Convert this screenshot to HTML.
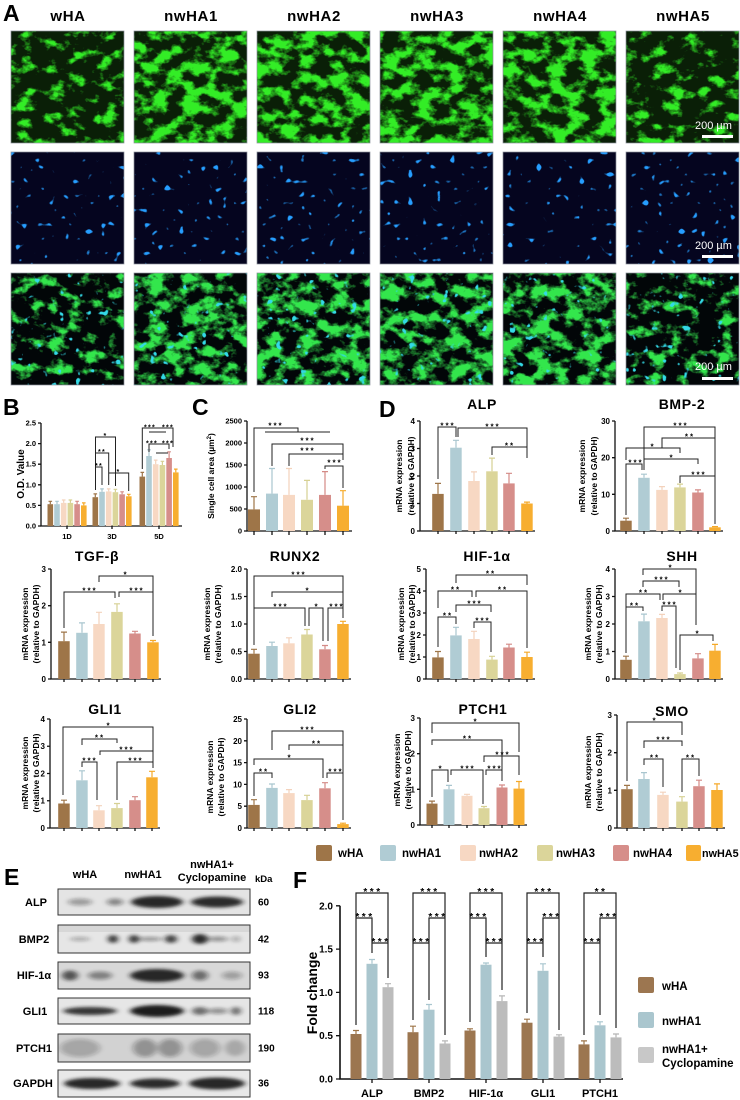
<!DOCTYPE html>
<html><head><meta charset="utf-8"><style>
html,body{margin:0;padding:0;background:#fff;}
svg{display:block}
text{font-family:"Liberation Sans",Arial,sans-serif;font-weight:bold;fill:#000}
.ax{stroke:#111;stroke-width:1.3;fill:none}
.br{stroke:#222;stroke-width:1;fill:none}
.tk{font-size:8px;text-anchor:end}
.ttl{font-size:14px;text-anchor:middle;letter-spacing:0.6px}
.yl{font-size:8.5px;text-anchor:middle}
.s{font-size:8px;letter-spacing:2px;text-anchor:middle}
.sb{font-size:7px;letter-spacing:1.3px;text-anchor:middle}
.sf{font-size:10px;letter-spacing:2.5px;text-anchor:middle}
.L{font-size:23px}
.hd{font-size:15px;text-anchor:middle;letter-spacing:0.6px}
.lg{font-size:11.5px}
.e0{stroke:#9e7548;stroke-width:1.2;fill:none}
.e1{stroke:#a9c6cf;stroke-width:1.2;fill:none}
.e2{stroke:#f3d2bc;stroke-width:1.2;fill:none}
.e3{stroke:#d6d093;stroke-width:1.2;fill:none}
.e4{stroke:#d48a86;stroke-width:1.2;fill:none}
.e5{stroke:#f5a928;stroke-width:1.2;fill:none}
.eg{stroke:#b5b5b5;stroke-width:1.2;fill:none}
.sc{font-family:"Liberation Sans",Arial,sans-serif;font-weight:normal;font-size:11px;fill:#fff}
</style></head><body>
<svg width="740" height="1100" viewBox="0 0 740 1100" xmlns="http://www.w3.org/2000/svg">
<defs>
<filter id="fg" x="0" y="0" width="1" height="1" color-interpolation-filters="sRGB">
<feTurbulence type="fractalNoise" baseFrequency="0.06 0.08" numOctaves="4" seed="7"/>
<feColorMatrix type="matrix" values="0 0 0 0 0.2  0 0 0 0 0.93  0 0 0 0 0.15  5 0 0 0 -2.15"/>
</filter>
<filter id="fg0" x="0" y="0" width="1" height="1" color-interpolation-filters="sRGB">
<feTurbulence type="fractalNoise" baseFrequency="0.06 0.08" numOctaves="4" seed="11"/>
<feColorMatrix type="matrix" values="0 0 0 0 0.2  0 0 0 0 0.93  0 0 0 0 0.15  5 0 0 0 -2.6"/>
</filter>
<filter id="fd" x="0" y="0" width="1" height="1" color-interpolation-filters="sRGB">
<feTurbulence type="fractalNoise" baseFrequency="0.14" numOctaves="1" seed="5"/>
<feColorMatrix type="matrix" values="0 0 0 0 0.15  0 0 0 0 0.62  0 0 0 0 1  16 0 0 0 -10.8"/>
</filter>
<filter id="fm" x="0" y="0" width="1" height="1" color-interpolation-filters="sRGB">
<feTurbulence type="fractalNoise" baseFrequency="0.06 0.08" numOctaves="4" seed="21"/>
<feColorMatrix type="matrix" values="0 0 0 0 0.2  0 0 0 0 0.9  0 0 0 0 0.3  5 0 0 0 -2.15"/>
</filter>
<filter id="fm0" x="0" y="0" width="1" height="1" color-interpolation-filters="sRGB">
<feTurbulence type="fractalNoise" baseFrequency="0.06 0.08" numOctaves="4" seed="23"/>
<feColorMatrix type="matrix" values="0 0 0 0 0.2  0 0 0 0 0.9  0 0 0 0 0.3  5 0 0 0 -2.6"/>
</filter>
<filter id="fmc" x="0" y="0" width="1" height="1" color-interpolation-filters="sRGB">
<feTurbulence type="fractalNoise" baseFrequency="0.12" numOctaves="2" seed="31"/>
<feColorMatrix type="matrix" values="0 0 0 0 0.2  0 0 0 0 0.85  0 0 0 0 0.9  12 0 0 0 -8.2"/>
</filter>
<filter id="bl" x="-30%" y="-100%" width="160%" height="300%"><feGaussianBlur stdDeviation="3 1.6"/></filter>
</defs>

<!-- ============ PANEL A ============ -->
<text x="3" y="21" class="L">A</text>
<text x="68" y="21" class="hd">wHA</text>
<text x="191" y="21" class="hd">nwHA1</text>
<text x="314" y="21" class="hd">nwHA2</text>
<text x="437" y="21" class="hd">nwHA3</text>
<text x="560" y="21" class="hd">nwHA4</text>
<text x="683" y="21" class="hd">nwHA5</text>

<!-- green row -->
<g>
<rect x="11" y="31" width="113" height="112" fill="#0a1f07"/><rect x="11" y="31" width="113" height="112" filter="url(#fg0)"/>
<rect x="134" y="31" width="113" height="112" fill="#0a1f07"/><rect x="134" y="31" width="113" height="112" filter="url(#fg)"/>
<rect x="257" y="31" width="113" height="112" fill="#0a1f07"/><rect x="257" y="31" width="113" height="112" filter="url(#fg)"/>
<rect x="380" y="31" width="113" height="112" fill="#0a1f07"/><rect x="380" y="31" width="113" height="112" filter="url(#fg)"/>
<rect x="503" y="31" width="113" height="112" fill="#0a1f07"/><rect x="503" y="31" width="113" height="112" filter="url(#fg)"/>
<rect x="626" y="31" width="113" height="112" fill="#0a1f07"/><rect x="626" y="31" width="113" height="112" filter="url(#fg0)"/>
</g>
<!-- dapi row -->
<g>
<rect x="11" y="152" width="113" height="112" fill="#05051f"/><rect x="11" y="152" width="113" height="112" filter="url(#fd)"/>
<rect x="134" y="152" width="113" height="112" fill="#05051f"/><rect x="134" y="152" width="113" height="112" filter="url(#fd)"/>
<rect x="257" y="152" width="113" height="112" fill="#05051f"/><rect x="257" y="152" width="113" height="112" filter="url(#fd)"/>
<rect x="380" y="152" width="113" height="112" fill="#05051f"/><rect x="380" y="152" width="113" height="112" filter="url(#fd)"/>
<rect x="503" y="152" width="113" height="112" fill="#05051f"/><rect x="503" y="152" width="113" height="112" filter="url(#fd)"/>
<rect x="626" y="152" width="113" height="112" fill="#05051f"/><rect x="626" y="152" width="113" height="112" filter="url(#fd)"/>
</g>
<!-- merged row -->
<g>
<rect x="11" y="273" width="113" height="112" fill="#020608"/><rect x="11" y="273" width="113" height="112" filter="url(#fm0)"/><rect x="11" y="273" width="113" height="112" filter="url(#fmc)"/>
<rect x="134" y="273" width="113" height="112" fill="#020608"/><rect x="134" y="273" width="113" height="112" filter="url(#fm)"/><rect x="134" y="273" width="113" height="112" filter="url(#fmc)"/>
<rect x="257" y="273" width="113" height="112" fill="#020608"/><rect x="257" y="273" width="113" height="112" filter="url(#fm)"/><rect x="257" y="273" width="113" height="112" filter="url(#fmc)"/>
<rect x="380" y="273" width="113" height="112" fill="#020608"/><rect x="380" y="273" width="113" height="112" filter="url(#fm)"/><rect x="380" y="273" width="113" height="112" filter="url(#fmc)"/>
<rect x="503" y="273" width="113" height="112" fill="#020608"/><rect x="503" y="273" width="113" height="112" filter="url(#fm)"/><rect x="503" y="273" width="113" height="112" filter="url(#fmc)"/>
<rect x="626" y="273" width="113" height="112" fill="#020608"/><rect x="626" y="273" width="113" height="112" filter="url(#fm0)"/><rect x="626" y="273" width="113" height="112" filter="url(#fmc)"/>
</g>
<g fill="none" stroke="#8a8f9a" stroke-width="0.7">
<rect x="11" y="31" width="113" height="112"/><rect x="134" y="31" width="113" height="112"/><rect x="257" y="31" width="113" height="112"/><rect x="380" y="31" width="113" height="112"/><rect x="503" y="31" width="113" height="112"/><rect x="626" y="31" width="113" height="112"/>
<rect x="11" y="152" width="113" height="112"/><rect x="134" y="152" width="113" height="112"/><rect x="257" y="152" width="113" height="112"/><rect x="380" y="152" width="113" height="112"/><rect x="503" y="152" width="113" height="112"/><rect x="626" y="152" width="113" height="112"/>
<rect x="11" y="273" width="113" height="112"/><rect x="134" y="273" width="113" height="112"/><rect x="257" y="273" width="113" height="112"/><rect x="380" y="273" width="113" height="112"/><rect x="503" y="273" width="113" height="112"/><rect x="626" y="273" width="113" height="112"/>
</g>
<text x="695" y="129" class="sc">200 µm</text><rect x="702" y="135" width="31" height="3" fill="#fff"/>
<text x="695" y="249" class="sc">200 µm</text><rect x="702" y="255" width="31" height="3" fill="#fff"/>
<text x="695" y="370" class="sc">200 µm</text><rect x="702" y="377" width="31" height="3" fill="#fff"/>

<!-- ============ PANEL B ============ -->
<text x="3" y="415" class="L">B</text>
<text transform="translate(24,474) rotate(-90)" style="font-size:10px;text-anchor:middle">O.D. Value</text>
<path class="ax" d="M41 423 V526 H182"/>
<path class="ax" d="M38 526H41M38 505.4H41M38 484.8H41M38 464.2H41M38 443.6H41M38 423H41M67 526V529M112 526V529M159 526V529"/>
<g style="font-size:7.5px;text-anchor:end">
<text x="36" y="528.5">0.0</text><text x="36" y="508">0.5</text><text x="36" y="487.3">1.0</text><text x="36" y="466.7">1.5</text><text x="36" y="446">2.0</text><text x="36" y="425.5">2.5</text>
</g>
<g style="font-size:7.5px;text-anchor:middle">
<text x="67" y="539">1D</text><text x="112" y="539">3D</text><text x="159" y="539">5D</text>
</g>
<!-- 1D -->
<rect x="47.5" y="504.2" width="5.6" height="21.8" fill="#9e7548"/><path class="e0" d="M50.3 504.2V501.3M48.5 501.3H52.1"/>
<rect x="54.2" y="504.2" width="5.6" height="21.8" fill="#b0ccd4"/><path class="e1" d="M57 504.2V501.3M55.2 501.3H58.8"/>
<rect x="60.9" y="502.9" width="5.6" height="23.1" fill="#f7d8c3"/><path class="e2" d="M63.7 502.9V500M61.9 500H65.5"/>
<rect x="67.6" y="502.9" width="5.6" height="23.1" fill="#dbd59a"/><path class="e3" d="M70.4 502.9V500M68.6 500H72.2"/>
<rect x="74.3" y="504.2" width="5.6" height="21.8" fill="#d68e8a"/><path class="e4" d="M77.1 504.2V501.3M75.3 501.3H78.9"/>
<rect x="81" y="505.4" width="5.6" height="20.6" fill="#f7ae30"/><path class="e5" d="M83.8 505.4V502.9M82 502.9H85.6"/>
<!-- 3D -->
<rect x="92.5" y="497.2" width="5.6" height="28.8" fill="#9e7548"/><path class="e0" d="M95.3 497.2V493.9M93.5 493.9H97.1"/>
<rect x="99.2" y="491.8" width="5.6" height="34.2" fill="#b0ccd4"/><path class="e1" d="M102 491.8V488.9M100.2 488.9H103.8"/>
<rect x="105.9" y="491.4" width="5.6" height="34.6" fill="#f7d8c3"/><path class="e2" d="M108.7 491.4V488.9M106.9 488.9H110.5"/>
<rect x="112.6" y="492.2" width="5.6" height="33.8" fill="#dbd59a"/><path class="e3" d="M115.4 492.2V489.3M113.6 489.3H117.2"/>
<rect x="119.3" y="494.3" width="5.6" height="31.7" fill="#d68e8a"/><path class="e4" d="M122.1 494.3V491.8M120.3 491.8H123.9"/>
<rect x="126" y="496.3" width="5.6" height="29.7" fill="#f7ae30"/><path class="e5" d="M128.8 496.3V494.3M127 494.3H130.6"/>
<!-- 5D -->
<rect x="139.5" y="476.6" width="5.6" height="49.4" fill="#9e7548"/><path class="e0" d="M142.3 476.6V472.4M140.5 472.4H144.1"/>
<rect x="146.2" y="456" width="5.6" height="70" fill="#b0ccd4"/><path class="e1" d="M149 456V449.8M147.2 449.8H150.8"/>
<rect x="152.9" y="464.2" width="5.6" height="61.8" fill="#f7d8c3"/><path class="e2" d="M155.7 464.2V460.1M153.9 460.1H157.5"/>
<rect x="159.6" y="465" width="5.6" height="61" fill="#dbd59a"/><path class="e3" d="M162.4 465V461.3M160.6 461.3H164.2"/>
<rect x="166.3" y="458" width="5.6" height="68" fill="#d68e8a"/><path class="e4" d="M169.1 458V451.8M167.3 451.8H170.9"/>
<rect x="173" y="472.4" width="5.6" height="53.6" fill="#f7ae30"/><path class="e5" d="M175.8 472.4V469.1M174 469.1H177.6"/>
<path class="br" d="M95.5 490V437H115.5V486M95.5 486V453H108.7V485M95.5 484V467H102V485M108.7 485V473H128.7V491"/>
<text x="105.5" y="438" class="sb">*</text><text x="102" y="454" class="sb">**</text><text x="99" y="468" class="sb">**</text><text x="118.5" y="474" class="sb">*</text>
<path class="br" d="M142.3 469V428H173V447M149 432H166M149 452V444H169V449M156 453H168"/>
<text x="150" y="429.5" class="sb">***</text><text x="168" y="429.5" class="sb">***</text>
<text x="152" y="445.5" class="sb">***</text><text x="168" y="445.5" class="sb">***</text>

<!-- ============ PANEL C ============ -->
<text x="192" y="415" class="L">C</text>
<text transform="translate(214,476) rotate(-90)" style="font-size:8.5px;text-anchor:middle">Single cell area (µm<tspan dy="-3" style="font-size:6px">2</tspan><tspan dy="3">)</tspan></text>
<path class="ax" d="M247 421V531H352"/>
<path class="ax" d="M244 531H247M244 509H247M244 487H247M244 465H247M244 443H247M244 421H247M254 531V535M272 531V535M289 531V535M307 531V535M325 531V535M343 531V535"/>
<g class="tk" style="font-size:7.5px">
<text x="242" y="533.5">0</text><text x="242" y="511.5">500</text><text x="242" y="489.5">1000</text><text x="242" y="467.5">1500</text><text x="242" y="445.5">2000</text><text x="242" y="423.5">2500</text>
</g>
<rect x="248" y="509.4" width="12" height="21.6" fill="#9e7548"/><path class="e0" d="M254 509.4V496.7M251 496.7H257"/>
<rect x="266" y="493.6" width="12" height="37.4" fill="#b0ccd4"/><path class="e1" d="M272 493.6V468.5M269 468.5H275"/>
<rect x="283" y="494.9" width="12" height="36.1" fill="#f7d8c3"/><path class="e2" d="M289 494.9V468.5M286 468.5H292"/>
<rect x="301" y="499.8" width="12" height="31.2" fill="#dbd59a"/><path class="e3" d="M307 499.8V480.4M304 480.4H310"/>
<rect x="319" y="494.9" width="12" height="36.1" fill="#d68e8a"/><path class="e4" d="M325 494.9V471.6M322 471.6H328"/>
<rect x="337" y="505.7" width="12" height="25.3" fill="#f7ae30"/><path class="e5" d="M343 505.7V490.7M340 490.7H346"/>
<path class="br" d="M254 492V428H298V432M265 432H330M272 466V444H343V460M289 466V454H343M325 469V466H343V488"/>
<text x="276" y="428.5" class="s">***</text><text x="308" y="443.5" class="s">***</text><text x="308" y="453.5" class="s">***</text><text x="335" y="465.5" class="s">***</text>

<!-- ============ PANEL D ============ -->
<text x="379" y="417" class="L">D</text>

<!-- ALP -->
<text x="482" y="409" class="ttl">ALP</text>
<text transform="translate(402,476) rotate(-90)" class="yl">mRNA expression</text>
<text transform="translate(414,476) rotate(-90)" class="yl">(relative to GAPDH)</text>
<path class="ax" d="M420 421V531H535"/>
<path class="ax" d="M417 531H420M417 503.5H420M417 476H420M417 448.5H420M417 421H420M438 531V534M456 531V534M474 531V534M492 531V534M509 531V534M527 531V534"/>
<g class="tk"><text x="415" y="534">0</text><text x="415" y="506.5">1</text><text x="415" y="479">2</text><text x="415" y="451.5">3</text><text x="415" y="424">4</text></g>
<rect x="432.2" y="493.9" width="11.5" height="37.1" fill="#9e7548"/><path class="e0" d="M438 493.9V483.4M435 483.4H441"/>
<rect x="450.2" y="447.7" width="11.5" height="83.3" fill="#b0ccd4"/><path class="e1" d="M456 447.7V440.3M453 440.3H459"/>
<rect x="468.2" y="481" width="11.5" height="50" fill="#f7d8c3"/><path class="e2" d="M474 481V471.9M471 471.9H477"/>
<rect x="486.2" y="471.3" width="11.5" height="59.7" fill="#dbd59a"/><path class="e3" d="M492 471.3V458.1M489 458.1H495"/>
<rect x="503.2" y="483.4" width="11.5" height="47.6" fill="#d68e8a"/><path class="e4" d="M509 483.4V473.3M506 473.3H512"/>
<rect x="521.2" y="503.5" width="11.5" height="27.5" fill="#f7ae30"/><path class="e5" d="M527 503.5V502.1M524 502.1H530"/>
<path class="br" d="M438 479V427H456V437M458 437V428H527V458M492 455V447H527"/>
<text x="448" y="428.5" class="s">***</text><text x="493" y="429.5" class="s">***</text><text x="510" y="448.5" class="s">**</text>

<!-- BMP-2 -->
<text x="682" y="409" class="ttl">BMP-2</text>
<text transform="translate(585,476) rotate(-90)" class="yl">mRNA expression</text>
<text transform="translate(597,476) rotate(-90)" class="yl">(relative to GAPDH)</text>
<path class="ax" d="M615 421V531H723"/>
<path class="ax" d="M612 531H615M612 494.3H615M612 457.7H615M612 421H615M626 531V534M644 531V534M662 531V534M680 531V534M698 531V534M715 531V534"/>
<g class="tk"><text x="610" y="534">0</text><text x="610" y="497.3">10</text><text x="610" y="460.7">20</text><text x="610" y="424">30</text></g>
<rect x="620.2" y="520.7" width="11.5" height="10.3" fill="#9e7548"/><path class="e0" d="M626 520.7V518.2M623 518.2H629"/>
<rect x="638.2" y="477.8" width="11.5" height="53.2" fill="#b0ccd4"/><path class="e1" d="M644 477.8V474.2M641 474.2H647"/>
<rect x="656.2" y="489.9" width="11.5" height="41.1" fill="#f7d8c3"/><path class="e2" d="M662 489.9V486.6M659 486.6H665"/>
<rect x="674.2" y="487.4" width="11.5" height="43.6" fill="#dbd59a"/><path class="e3" d="M680 487.4V484.1M677 484.1H683"/>
<rect x="692.2" y="492.5" width="11.5" height="38.5" fill="#d68e8a"/><path class="e4" d="M698 492.5V489.9M695 489.9H701"/>
<rect x="709.2" y="527.3" width="11.5" height="3.7" fill="#f7ae30"/><path class="e5" d="M715 527.3V526.6M712 526.6H718"/>
<path class="br" d="M644 467V427H715V524M662 448V438H715M626 460V448H680V453M644 470V459H698V464M626 515V464H642V470M680 483V476H715"/>
<text x="681" y="428.5" class="s">***</text><text x="690" y="439.5" class="s">**</text><text x="653" y="449.5" class="s">*</text><text x="672" y="460.5" class="s">*</text><text x="636" y="465.5" class="s">***</text><text x="699" y="477.5" class="s">***</text>

<!-- TGF-beta -->
<text x="97" y="561" class="ttl">TGF-β</text>
<text transform="translate(28,624) rotate(-90)" class="yl">mRNA expression</text>
<text transform="translate(39,624) rotate(-90)" class="yl">(relative to GAPDH)</text>
<path class="ax" d="M51 569V679H161"/>
<path class="ax" d="M48 679H51M48 642.3H51M48 605.7H51M48 569H51M64 679V682M82 679V682M99 679V682M117 679V682M135 679V682M153 679V682"/>
<g class="tk"><text x="46" y="682">0</text><text x="46" y="645.3">1</text><text x="46" y="608.7">2</text><text x="46" y="572">3</text></g>
<rect x="58.2" y="641.2" width="11.5" height="37.8" fill="#9e7548"/><path class="e0" d="M64 641.2V632.1M61 632.1H67"/>
<rect x="76.2" y="632.8" width="11.5" height="46.2" fill="#b0ccd4"/><path class="e1" d="M82 632.8V622.9M79 622.9H85"/>
<rect x="93.2" y="624" width="11.5" height="55" fill="#f7d8c3"/><path class="e2" d="M99 624V612.3M96 612.3H102"/>
<rect x="111.2" y="611.9" width="11.5" height="67.1" fill="#dbd59a"/><path class="e3" d="M117 611.9V603.8M114 603.8H120"/>
<rect x="129.2" y="633.5" width="11.5" height="45.5" fill="#d68e8a"/><path class="e4" d="M135 633.5V631.3M132 631.3H138"/>
<rect x="147.2" y="642.3" width="11.5" height="36.7" fill="#f7ae30"/><path class="e5" d="M153 642.3V640.5M150 640.5H156"/>
<path class="br" d="M99 582V576H153V600M64 628V592H115V598M119 597V592H153V636"/>
<text x="126" y="577.5" class="s">*</text><text x="90" y="593.5" class="s">***</text><text x="137" y="593.5" class="s">***</text>

<!-- RUNX2 -->
<text x="295" y="561" class="ttl">RUNX2</text>
<text transform="translate(210,624) rotate(-90)" class="yl">mRNA expression</text>
<text transform="translate(221,624) rotate(-90)" class="yl">(relative to GAPDH)</text>
<path class="ax" d="M247 569V679H351"/>
<path class="ax" d="M244 679H247M244 651.5H247M244 624H247M244 596.5H247M244 569H247M254 679V682M272 679V682M289 679V682M307 679V682M325 679V682M343 679V682"/>
<g class="tk"><text x="242" y="682">0.0</text><text x="242" y="654.5">0.5</text><text x="242" y="627">1.0</text><text x="242" y="599.5">1.5</text><text x="242" y="572">2.0</text></g>
<rect x="248.2" y="653.7" width="11.5" height="25.3" fill="#9e7548"/><path class="e0" d="M254 653.7V649.3M251 649.3H257"/>
<rect x="266.2" y="646" width="11.5" height="33" fill="#b0ccd4"/><path class="e1" d="M272 646V642.2M269 642.2H275"/>
<rect x="283.2" y="643.3" width="11.5" height="35.7" fill="#f7d8c3"/><path class="e2" d="M289 643.3V637.8M286 637.8H292"/>
<rect x="301.2" y="634.5" width="11.5" height="44.5" fill="#dbd59a"/><path class="e3" d="M307 634.5V629.5M304 629.5H310"/>
<rect x="319.2" y="649.3" width="11.5" height="29.7" fill="#d68e8a"/><path class="e4" d="M325 649.3V645.5M322 645.5H328"/>
<rect x="337.2" y="624" width="11.5" height="55" fill="#f7ae30"/><path class="e5" d="M343 624V621.3M340 621.3H346"/>
<path class="br" d="M254 645V576H343V617M272 597V592H343M254 612V608H305V626M309 626V608H323V641M328 641V608H343V618"/>
<text x="299" y="577.5" class="s">***</text><text x="308" y="593.5" class="s">*</text><text x="281" y="609.5" class="s">***</text><text x="317" y="609.5" class="s">*</text><text x="337" y="609.5" class="s">***</text>

<!-- HIF-1a -->
<text x="487" y="561" class="ttl">HIF-1α</text>
<text transform="translate(404,624) rotate(-90)" class="yl">mRNA expression</text>
<text transform="translate(415,624) rotate(-90)" class="yl">(relative to GAPDH)</text>
<path class="ax" d="M426 569V679H535"/>
<path class="ax" d="M423 679H426M423 657H426M423 635H426M423 613H426M423 591H426M423 569H426M438 679V682M456 679V682M474 679V682M492 679V682M509 679V682M527 679V682"/>
<g class="tk"><text x="421" y="682">0</text><text x="421" y="660">1</text><text x="421" y="638">2</text><text x="421" y="616">3</text><text x="421" y="594">4</text><text x="421" y="572">5</text></g>
<rect x="432.2" y="657.4" width="11.5" height="21.6" fill="#9e7548"/><path class="e0" d="M438 657.4V651.5M435 651.5H441"/>
<rect x="450.2" y="635.4" width="11.5" height="43.6" fill="#b0ccd4"/><path class="e1" d="M456 635.4V627.3M453 627.3H459"/>
<rect x="468.2" y="639" width="11.5" height="40" fill="#f7d8c3"/><path class="e2" d="M474 639V631.3M471 631.3H477"/>
<rect x="486.2" y="659.6" width="11.5" height="19.4" fill="#dbd59a"/><path class="e3" d="M492 659.6V656.3M489 656.3H495"/>
<rect x="503.2" y="647.5" width="11.5" height="31.5" fill="#d68e8a"/><path class="e4" d="M509 647.5V644.2M506 644.2H512"/>
<rect x="521.2" y="657" width="11.5" height="22" fill="#f7ae30"/><path class="e5" d="M527 657V652.2M524 652.2H530"/>
<path class="br" d="M456 583V575H527V585M438 608V591H472V597M476 597V591H527V648M456 612V605H491V612M438 647V617H456V624M474 628V622H491V652"/>
<text x="491" y="576.5" class="s">**</text><text x="456" y="592.5" class="s">**</text><text x="503" y="592.5" class="s">**</text><text x="475" y="606.5" class="s">***</text><text x="448" y="618.5" class="s">**</text><text x="483" y="623.5" class="s">***</text>

<!-- SHH -->
<text x="682" y="561" class="ttl">SHH</text>
<text transform="translate(591,624) rotate(-90)" class="yl">mRNA expression</text>
<text transform="translate(602,624) rotate(-90)" class="yl">(relative to GAPDH)</text>
<path class="ax" d="M615 569V679H723"/>
<path class="ax" d="M612 679H615M612 651.5H615M612 624H615M612 596.5H615M612 569H615M626 679V682M644 679V682M662 679V682M680 679V682M698 679V682M715 679V682"/>
<g class="tk"><text x="610" y="682">0</text><text x="610" y="654.5">1</text><text x="610" y="627">2</text><text x="610" y="599.5">3</text><text x="610" y="572">4</text></g>
<rect x="620.2" y="659.8" width="11.5" height="19.2" fill="#9e7548"/><path class="e0" d="M626 659.8V656.2M623 656.2H629"/>
<rect x="638.2" y="621.3" width="11.5" height="57.7" fill="#b0ccd4"/><path class="e1" d="M644 621.3V614.1M641 614.1H647"/>
<rect x="656.2" y="618" width="11.5" height="61" fill="#f7d8c3"/><path class="e2" d="M662 618V614.4M659 614.4H665"/>
<rect x="674.2" y="674.1" width="11.5" height="4.9" fill="#dbd59a"/><path class="e3" d="M680 674.1V673M677 673H683"/>
<rect x="692.2" y="658.4" width="11.5" height="20.6" fill="#d68e8a"/><path class="e4" d="M698 658.4V653.7M695 653.7H701"/>
<rect x="709.2" y="650.7" width="11.5" height="28.3" fill="#f7ae30"/><path class="e5" d="M715 650.7V644.4M712 644.4H718"/>
<path class="br" d="M643 575V569H696V625M643 587V581H679V587M626 607V594H660V600M663 600V594H696M626 653V607H643V611M662 611V606H676V668M680 670V635H713V641"/>
<text x="671" y="570.5" class="s">*</text><text x="662" y="582.5" class="s">***</text><text x="644" y="595.5" class="s">**</text><text x="681" y="595.5" class="s">*</text><text x="635" y="608.5" class="s">**</text><text x="670" y="607.5" class="s">***</text><text x="698" y="636.5" class="s">*</text>

<!-- GLI1 -->
<text x="105" y="714" class="ttl">GLI1</text>
<text transform="translate(28,773) rotate(-90)" class="yl">mRNA expression</text>
<text transform="translate(39,773) rotate(-90)" class="yl">(relative to GAPDH)</text>
<path class="ax" d="M50 719V828H160"/>
<path class="ax" d="M47 828H50M47 800.75H50M47 773.5H50M47 746.25H50M47 719H50M64 828V831M82 828V831M99 828V831M117 828V831M135 828V831M152 828V831"/>
<g class="tk"><text x="45" y="831">0</text><text x="45" y="803.7">1</text><text x="45" y="776.5">2</text><text x="45" y="749.2">3</text><text x="45" y="722">4</text></g>
<rect x="58.2" y="803.5" width="11.5" height="24.5" fill="#9e7548"/><path class="e0" d="M64 803.5V800.2M61 800.2H67"/>
<rect x="76.2" y="780.3" width="11.5" height="47.7" fill="#b0ccd4"/><path class="e1" d="M82 780.3V770.8M79 770.8H85"/>
<rect x="93.2" y="810.3" width="11.5" height="17.7" fill="#f7d8c3"/><path class="e2" d="M99 810.3V805.7M96 805.7H102"/>
<rect x="111.2" y="808.1" width="11.5" height="19.9" fill="#dbd59a"/><path class="e3" d="M117 808.1V803.5M114 803.5H120"/>
<rect x="129.2" y="800.2" width="11.5" height="27.8" fill="#d68e8a"/><path class="e4" d="M135 800.2V796.7M132 796.7H138"/>
<rect x="146.2" y="777.3" width="11.5" height="50.7" fill="#f7ae30"/><path class="e5" d="M152 777.3V771.3M149 771.3H155"/>
<path class="br" d="M63 795V727H153V768M82 745V739H117V743M100 755V751H153V755M82 767V762H97V800M117 800V762H153V768"/>
<text x="109" y="728.5" class="s">*</text><text x="100" y="740.5" class="s">**</text><text x="127" y="752.5" class="s">***</text><text x="90" y="763.5" class="s">***</text><text x="136" y="763.5" class="s">***</text>

<!-- GLI2 -->
<text x="300" y="714" class="ttl">GLI2</text>
<text transform="translate(213,777) rotate(-90)" class="yl">mRNA expression</text>
<text transform="translate(224,777) rotate(-90)" class="yl">(relative to GAPDH)</text>
<path class="ax" d="M247 719V828H351"/>
<path class="ax" d="M244 828H247M244 806.2H247M244 784.4H247M244 762.6H247M244 740.8H247M244 719H247M254 828V831M272 828V831M289 828V831M307 828V831M325 828V831M343 828V831"/>
<g class="tk"><text x="242" y="831">0</text><text x="242" y="809.2">5</text><text x="242" y="787.4">10</text><text x="242" y="765.6">15</text><text x="242" y="743.8">20</text><text x="242" y="722">25</text></g>
<rect x="248.2" y="804.9" width="11.5" height="23.1" fill="#9e7548"/><path class="e0" d="M254 804.9V799.7M251 799.7H257"/>
<rect x="266.2" y="787.9" width="11.5" height="40.1" fill="#b0ccd4"/><path class="e1" d="M272 787.9V784M269 784H275"/>
<rect x="283.2" y="793.1" width="11.5" height="34.9" fill="#f7d8c3"/><path class="e2" d="M289 793.1V789.6M286 789.6H292"/>
<rect x="301.2" y="800.1" width="11.5" height="27.9" fill="#dbd59a"/><path class="e3" d="M307 800.1V795.3M304 795.3H310"/>
<rect x="319.2" y="788.3" width="11.5" height="39.7" fill="#d68e8a"/><path class="e4" d="M325 788.3V782.7M322 782.7H328"/>
<rect x="337.2" y="824.1" width="11.5" height="3.9" fill="#f7ae30"/><path class="e5" d="M343 824.1V823.2M340 823.2H346"/>
<path class="br" d="M272 750V731H343V745M289 750V745H343V773M254 765V759H323V778M254 796V773H272V778M327 778V773H343V820"/>
<text x="308" y="732.5" class="s">***</text><text x="317" y="746.5" class="s">**</text><text x="290" y="760.5" class="s">*</text><text x="264" y="774.5" class="s">**</text><text x="336" y="774.5" class="s">***</text>

<!-- PTCH1 -->
<text x="483" y="714" class="ttl">PTCH1</text>
<text transform="translate(400,770) rotate(-90)" class="yl">mRNA expression</text>
<text transform="translate(411,770) rotate(-90)" class="yl">(relative to GAPDH)</text>
<path class="ax" d="M420 718V825H527"/>
<path class="ax" d="M417 825H420M417 789.3H420M417 753.7H420M417 718H420M432 825V828M449 825V828M467 825V828M484 825V828M502 825V828M519 825V828"/>
<g class="tk"><text x="415" y="828">0</text><text x="415" y="792.3">1</text><text x="415" y="756.7">2</text><text x="415" y="721">3</text></g>
<rect x="426.5" y="803.6" width="11" height="21.4" fill="#9e7548"/><path class="e0" d="M432 803.6V801.1M429 801.1H435"/>
<rect x="443.5" y="789.3" width="11" height="35.7" fill="#b0ccd4"/><path class="e1" d="M449 789.3V785.4M446 785.4H452"/>
<rect x="461.5" y="795.8" width="11" height="29.2" fill="#f7d8c3"/><path class="e2" d="M467 795.8V794.3M464 794.3H470"/>
<rect x="478.5" y="808.2" width="11" height="16.8" fill="#dbd59a"/><path class="e3" d="M484 808.2V806.5M481 806.5H487"/>
<rect x="496.5" y="787.5" width="11" height="37.5" fill="#d68e8a"/><path class="e4" d="M502 787.5V785M499 785H505"/>
<rect x="513.5" y="788.6" width="11" height="36.4" fill="#f7ae30"/><path class="e5" d="M519 788.6V781.5M516 781.5H522"/>
<path class="br" d="M432 733V723H519V752M432 745V740H502V780M484 762V756H519V775M432 797V770H448V782M451 775V770H483V804M486 775V770H502V781"/>
<text x="476" y="724.5" class="s">*</text><text x="468" y="741.5" class="s">**</text><text x="503" y="757.5" class="s">***</text><text x="441" y="771.5" class="s">*</text><text x="468" y="771.5" class="s">***</text><text x="495" y="771.5" class="s">***</text>

<!-- SMO -->
<text x="672" y="716" class="ttl">SMO</text>
<text transform="translate(591,772) rotate(-90)" class="yl">mRNA expression</text>
<text transform="translate(602,772) rotate(-90)" class="yl">(relative to GAPDH)</text>
<path class="ax" d="M617 715V828H725"/>
<path class="ax" d="M614 828H617M614 790.3H617M614 752.7H617M614 715H617M627 828V831M644 828V831M663 828V831M682 828V831M699 828V831M717 828V831"/>
<g class="tk"><text x="612" y="831">0</text><text x="612" y="793.3">1</text><text x="612" y="755.7">2</text><text x="612" y="718">3</text></g>
<rect x="621.2" y="789.2" width="11.5" height="38.8" fill="#9e7548"/><path class="e0" d="M627 789.2V785.4M624 785.4H630"/>
<rect x="638.2" y="779" width="11.5" height="49" fill="#b0ccd4"/><path class="e1" d="M644 779V772.6M641 772.6H647"/>
<rect x="657.2" y="794.9" width="11.5" height="33.1" fill="#f7d8c3"/><path class="e2" d="M663 794.9V792.2M660 792.2H666"/>
<rect x="676.2" y="801.6" width="11.5" height="26.4" fill="#dbd59a"/><path class="e3" d="M682 801.6V796.7M679 796.7H685"/>
<rect x="693.2" y="786.2" width="11.5" height="41.8" fill="#d68e8a"/><path class="e4" d="M699 786.2V780.2M696 780.2H702"/>
<rect x="711.2" y="790" width="11.5" height="38" fill="#f7ae30"/><path class="e5" d="M717 790V783.9M714 783.9H720"/>
<path class="br" d="M627 781V722H682V735M644 748V741H682V746M644 765V759H663V787M682 792V759H699V776"/>
<text x="655" y="723.5" class="s">*</text><text x="664" y="742.5" class="s">***</text><text x="655" y="760.5" class="s">**</text><text x="691" y="760.5" class="s">**</text>

<!-- D legend -->
<rect x="316" y="845" width="16" height="16" rx="2" fill="#9e7548"/><text x="338" y="857" class="lg">wHA</text>
<rect x="380" y="845" width="16" height="16" rx="2" fill="#b0ccd4"/><text x="402" y="857" class="lg">nwHA1</text>
<rect x="460" y="845" width="16" height="16" rx="2" fill="#f7d8c3"/><text x="479" y="857" class="lg">nwHA2</text>
<rect x="537" y="845" width="16" height="16" rx="2" fill="#dbd59a"/><text x="556" y="857" class="lg">nwHA3</text>
<rect x="613" y="845" width="16" height="16" rx="2" fill="#d68e8a"/><text x="633" y="857" class="lg">nwHA4</text>
<rect x="686" y="845" width="15" height="16" rx="2" fill="#f7ae30"/><text x="702" y="857" style="font-size:10.8px">nwHA5</text>

<!-- ============ PANEL E ============ -->
<text x="4" y="885" class="L">E</text>
<g style="font-size:11px;text-anchor:middle">
<text x="85" y="878">wHA</text><text x="143" y="878">nwHA1</text><text x="212" y="868">nwHA1+</text><text x="212" y="881">Cyclopamine</text>
</g>
<text x="255" y="882" style="font-size:9.5px">kDa</text>
<g style="font-size:11px;text-anchor:middle">
<text x="36" y="906">ALP</text><text x="34" y="943">BMP2</text><text x="34" y="979">HIF-1α</text><text x="35" y="1015">GLI1</text><text x="34" y="1052">PTCH1</text><text x="33" y="1087">GAPDH</text>
</g>
<g style="font-size:10px">
<text x="258" y="905.5">60</text><text x="258" y="942.5">42</text><text x="258" y="978.5">93</text><text x="258" y="1014.5">118</text><text x="258" y="1051.5">190</text><text x="258" y="1086.5">36</text>
</g>
<svg x="58" y="889" width="192" height="26"><rect width="192" height="26" fill="#e4e4e4"/><g filter="url(#bl)" fill="#1a1a1a">
<ellipse cx="22" cy="13" rx="12" ry="3.5" opacity=".35"/><ellipse cx="57" cy="13" rx="8" ry="3.5" opacity=".45"/><ellipse cx="99" cy="13" rx="26" ry="6" opacity=".95"/><ellipse cx="159" cy="13" rx="26" ry="5.5" opacity=".9"/></g></svg>
<svg x="58" y="925" width="192" height="28"><rect width="192" height="28" fill="#e6e6e6"/><rect width="192" height="7" fill="#c8c8c8" opacity=".5"/><g filter="url(#bl)" fill="#1a1a1a">
<ellipse cx="22" cy="14" rx="10" ry="2" opacity=".3"/><ellipse cx="55" cy="14" rx="5" ry="4" opacity=".85"/><ellipse cx="76" cy="14" rx="5" ry="4" opacity=".85"/><ellipse cx="92" cy="14" rx="12" ry="2" opacity=".4"/><ellipse cx="113" cy="14" rx="6" ry="4" opacity=".8"/><ellipse cx="142" cy="14" rx="8" ry="5" opacity=".9"/><ellipse cx="160" cy="14" rx="10" ry="2.5" opacity=".4"/><ellipse cx="178" cy="14" rx="4" ry="3" opacity=".3"/></g></svg>
<svg x="58" y="962" width="192" height="27"><rect width="192" height="27" fill="#d8d8d8"/><g filter="url(#bl)" fill="#1a1a1a">
<ellipse cx="12" cy="13.5" rx="8" ry="5" opacity=".7"/><ellipse cx="42" cy="13.5" rx="12" ry="4" opacity=".45"/><ellipse cx="99" cy="13.5" rx="27" ry="6.5" opacity=".95"/><ellipse cx="142" cy="13.5" rx="8" ry="5" opacity=".55"/><ellipse cx="174" cy="13.5" rx="10" ry="4" opacity=".3"/></g></svg>
<svg x="58" y="998" width="192" height="26"><rect width="192" height="26" fill="#e6e6e6"/><g filter="url(#bl)" fill="#1a1a1a">
<ellipse cx="32" cy="13" rx="27" ry="4" opacity=".85"/><ellipse cx="99" cy="13" rx="27" ry="6" opacity="1"/><ellipse cx="142" cy="13" rx="8" ry="4" opacity=".6"/><ellipse cx="160" cy="13" rx="10" ry="3" opacity=".4"/><ellipse cx="178" cy="13" rx="5" ry="4" opacity=".6"/></g></svg>
<svg x="58" y="1034" width="192" height="28"><rect width="192" height="28" fill="#d2d2d2"/><g filter="url(#bl)" fill="#1a1a1a">
<ellipse cx="22" cy="14" rx="20" ry="9" opacity=".25"/><ellipse cx="87" cy="14" rx="12" ry="9" opacity=".35"/><ellipse cx="112" cy="14" rx="12" ry="9" opacity=".35"/><ellipse cx="147" cy="14" rx="15" ry="9" opacity=".25"/><ellipse cx="177" cy="14" rx="10" ry="8" opacity=".2"/></g></svg>
<svg x="58" y="1070" width="192" height="27"><rect width="192" height="27" fill="#e8e8e8"/><g filter="url(#bl)" fill="#1a1a1a">
<ellipse cx="34" cy="13.5" rx="28" ry="5.5" opacity=".95"/><ellipse cx="97" cy="13.5" rx="25" ry="5" opacity=".9"/><ellipse cx="159" cy="13.5" rx="28" ry="6" opacity=".95"/></g></svg>
<g fill="none" stroke="#333" stroke-width="1">
<rect x="58" y="889" width="192" height="26"/><rect x="58" y="925" width="192" height="28"/><rect x="58" y="962" width="192" height="27"/><rect x="58" y="998" width="192" height="26"/><rect x="58" y="1034" width="192" height="28"/><rect x="58" y="1070" width="192" height="27"/>
</g>

<!-- ============ PANEL F ============ -->
<text x="293" y="888" class="L">F</text>
<text transform="translate(317,993) rotate(-90)" style="font-size:14px;text-anchor:middle">Fold change</text>
<path class="ax" d="M340 905.8V1079H623" style="stroke-width:1.6"/>
<path class="ax" d="M336 1079H340M336 1035.7H340M336 992.4H340M336 949.1H340M336 905.8H340M372 1079V1083M429 1079V1083M486 1079V1083M543 1079V1083M600 1079V1083"/>
<g style="font-size:10px;text-anchor:end">
<text x="333" y="1082.5">0.0</text><text x="333" y="1039.2">0.5</text><text x="333" y="995.9">1.0</text><text x="333" y="952.6">1.5</text><text x="333" y="909.3">2.0</text>
</g>
<g style="font-size:11px;text-anchor:middle">
<text x="372" y="1097">ALP</text><text x="429" y="1097">BMP2</text><text x="486" y="1097">HIF-1α</text><text x="543" y="1097">GLI1</text><text x="600" y="1097">PTCH1</text>
</g>
<!-- ALP -->
<rect x="350.5" y="1034" width="11" height="45" fill="#9c7650"/><path class="e0" d="M356 1034V1030.5M353 1030.5H359"/>
<rect x="366.5" y="963.8" width="11" height="115.2" fill="#aac6ce"/><path class="e1" d="M372 963.8V959.5M369 959.5H375"/>
<rect x="382.5" y="987.2" width="11" height="91.8" fill="#bcbcbc"/><path class="eg" d="M388 987.2V983.7M385 983.7H391"/>
<!-- BMP2 -->
<rect x="407.5" y="1032.2" width="11" height="46.8" fill="#9c7650"/><path class="e0" d="M413 1032.2V1026.2M410 1026.2H416"/>
<rect x="423.5" y="1009.7" width="11" height="69.3" fill="#aac6ce"/><path class="e1" d="M429 1009.7V1004.5M426 1004.5H432"/>
<rect x="439.5" y="1043.5" width="11" height="35.5" fill="#bcbcbc"/><path class="eg" d="M445 1043.5V1040.9M442 1040.9H448"/>
<!-- HIF -->
<rect x="464.5" y="1030.5" width="11" height="48.5" fill="#9c7650"/><path class="e0" d="M470 1030.5V1028.8M467 1028.8H473"/>
<rect x="480.5" y="964.7" width="11" height="114.3" fill="#aac6ce"/><path class="e1" d="M486 964.7V963M483 963H489"/>
<rect x="496.5" y="1001.1" width="11" height="77.9" fill="#bcbcbc"/><path class="eg" d="M502 1001.1V995.9M499 995.9H505"/>
<!-- GLI1 -->
<rect x="521.5" y="1022.7" width="11" height="56.3" fill="#9c7650"/><path class="e0" d="M527 1022.7V1019.2M524 1019.2H530"/>
<rect x="537.5" y="970.8" width="11" height="108.2" fill="#aac6ce"/><path class="e1" d="M543 970.8V963.8M540 963.8H546"/>
<rect x="553.5" y="1036.6" width="11" height="42.4" fill="#bcbcbc"/><path class="eg" d="M559 1036.6V1034.8M556 1034.8H562"/>
<!-- PTCH1 -->
<rect x="578.5" y="1044.4" width="11" height="34.6" fill="#9c7650"/><path class="e0" d="M584 1044.4V1040.9M581 1040.9H587"/>
<rect x="594.5" y="1025.3" width="11" height="53.7" fill="#aac6ce"/><path class="e1" d="M600 1025.3V1021.8M597 1021.8H603"/>
<rect x="610.5" y="1037.4" width="11" height="41.6" fill="#bcbcbc"/><path class="eg" d="M616 1037.4V1034M613 1034H619"/>
<path class="br" style="stroke-width:1.2" d="M356 1025V893H388V978M356 918H372V953M372 943H388
M413 1020V893H445V1035M429 1000V918H445M413 943H429
M470 1022V893H502V990M470 918H486V957M486 943H502
M527 1013V893H559V1030M543 957V918H559M527 943H543
M584 1035V893H616V1028M600 1015V918H616M584 943H600"/>
<text x="373" y="895" class="sf">***</text><text x="365" y="920" class="sf">***</text><text x="381" y="945" class="sf">***</text>
<text x="430" y="895" class="sf">***</text><text x="438" y="920" class="sf">***</text><text x="422" y="945" class="sf">***</text>
<text x="487" y="895" class="sf">***</text><text x="479" y="920" class="sf">***</text><text x="495" y="945" class="sf">***</text>
<text x="544" y="895" class="sf">***</text><text x="552" y="920" class="sf">***</text><text x="536" y="945" class="sf">***</text>
<text x="601" y="895" class="sf">**</text><text x="609" y="920" class="sf">***</text><text x="593" y="945" class="sf">***</text>
<!-- F legend -->
<rect x="638" y="977" width="16" height="16" rx="2" fill="#9c7650"/><text x="662" y="990" class="lg">wHA</text>
<rect x="638" y="1012" width="16" height="16" rx="2" fill="#aac6ce"/><text x="662" y="1025" class="lg">nwHA1</text>
<rect x="638" y="1047" width="16" height="16" rx="2" fill="#c8c8c8"/><text x="662" y="1053" class="lg">nwHA1+</text><text x="662" y="1067" class="lg">Cyclopamine</text>
</svg>
</body></html>
